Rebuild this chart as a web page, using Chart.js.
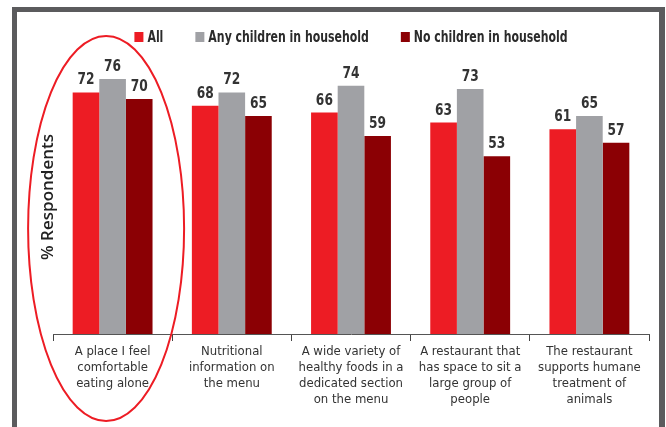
<!DOCTYPE html>
<html><head><meta charset="utf-8">
<script src="https://cdn.jsdelivr.net/npm/chart.js@4"></script>
<style>
html,body{margin:0;padding:0;background:#fff;width:666px;height:427px;overflow:hidden;}
#frame{position:absolute;left:12px;top:7px;width:642px;height:440px;border:5px solid #5b5b5d;border-right-width:6px;box-sizing:content-box;}
#wrap{position:absolute;left:0;top:0;width:666px;height:427px;}
</style></head><body>
<div id="frame"></div>
<div id="wrap"><canvas id="c" width="666" height="427"></canvas></div>
<script>
const categories = [
  ["A place I feel", "comfortable", "eating alone"],
  ["Nutritional", "information on", "the menu"],
  ["A wide variety of", "healthy foods in a", "dedicated section", "on the menu"],
  ["A restaurant that", "has space to sit a", "large group of", "people"],
  ["The restaurant", "supports humane", "treatment of", "animals"]
];
const seriesNames = ["All", "Any children in household", "No children in household"];
const allValues = [72, 68, 66, 63, 61];
const anyChildrenValues = [76, 72, 74, 73, 65];
const noChildrenValues = [70, 65, 59, 53, 57];
const yAxisTitle = "% Respondents";

const COLORS = ["#ED1C24", "#A0A1A5", "#8B0004"];
const COND = "'Liberation Sans Narrow', 'DejaVu Sans Condensed', 'Roboto Condensed', 'Liberation Sans', sans-serif";

const labelPlugin = {
  id: 'valueLabels',
  afterDatasetsDraw(chart) {
    const ctx = chart.ctx;
    chart.data.datasets.forEach((ds, i) => {
      const meta = chart.getDatasetMeta(i);
      meta.data.forEach((bar, j) => {
        ctx.save();
        ctx.font = "bold 16px " + COND;
        ctx.fillStyle = "#333";
        ctx.textAlign = "center";
        ctx.textBaseline = "alphabetic";
        ctx.translate(bar.x, bar.y - 8);
        ctx.scale(0.85, 1);
        ctx.fillText(String(ds.data[j]), 0, 0);
        ctx.restore();
      });
    });
  }
};

const legendPlugin = {
  id: 'customLegend',
  afterDraw(chart) {
    const ctx = chart.ctx;
    ctx.save();
    const sx = 0.76;
    ctx.font = "bold 16px " + COND;
    ctx.textBaseline = "middle";
    ctx.textAlign = "left";
    const box = 9, gap = 4, spacing = 32;
    const widths = chart.data.datasets.map(d => ctx.measureText(d.label).width * sx);
    const total = widths.reduce((a, w) => a + box + gap + w, 0) + spacing * (widths.length - 1);
    const ca = chart.chartArea;
    let x = (ca.left + ca.right) / 2 - total / 2;
    const y = 37;
    chart.data.datasets.forEach((d, i) => {
      ctx.fillStyle = d.backgroundColor;
      ctx.fillRect(x, y - 5, box, 10);
      ctx.save();
      ctx.translate(x + box + gap, y + 1);
      ctx.scale(sx, 1);
      ctx.fillStyle = "#2b2b2b";
      ctx.fillText(d.label, 0, 0);
      ctx.restore();
      x += box + gap + widths[i] + spacing;
    });
    ctx.restore();
  }
};

const decorPlugin = {
  id: 'decor',
  afterDraw(chart) {
    const ctx = chart.ctx;
    const xs = chart.scales.x;
    ctx.save();
    ctx.translate(48, 197);
    ctx.rotate(-Math.PI / 2);
    ctx.font = "600 17px 'Open Sans', sans-serif";
    ctx.fillStyle = "#222";
    ctx.textAlign = "center";
    ctx.textBaseline = "middle";
    ctx.fillText(yAxisTitle, 0, 0);
    ctx.restore();
    ctx.save();
    const cx = xs.getPixelForValue(0) - 6.5;
    ctx.beginPath();
    ctx.ellipse(cx, 228.5, 78, 192.5, 0, 0, Math.PI * 2);
    ctx.strokeStyle = "#ED1C24";
    ctx.lineWidth = 2;
    ctx.stroke();
    ctx.restore();
  }
};

new Chart(document.getElementById('c'), {
  type: 'bar',
  data: {
    labels: categories,
    datasets: [
      { label: seriesNames[0], data: allValues, backgroundColor: COLORS[0] },
      { label: seriesNames[1], data: anyChildrenValues, backgroundColor: COLORS[1] },
      { label: seriesNames[2], data: noChildrenValues, backgroundColor: COLORS[2] }
    ]
  },
  options: {
    responsive: false,
    animation: false,
    layout: { padding: { left: 53, right: 17, top: 32, bottom: 16 } },
    datasets: { bar: { barPercentage: 1, categoryPercentage: 0.67 } },
    plugins: { legend: { display: false }, tooltip: { enabled: false } },
    scales: {
      x: {
        grid: { display: true, drawOnChartArea: false, drawTicks: true, tickLength: 7, color: "#444", offset: true },
        border: { display: true, color: "#555", width: 1 },
        ticks: { color: "#333", font: { family: COND, size: 13, lineHeight: '16px' }, padding: 3, maxRotation: 0, autoSkip: false }
      },
      y: {
        display: false,
        min: 0, max: 90
      }
    }
  },
  plugins: [labelPlugin, legendPlugin, decorPlugin]
});
</script>
</body></html>
